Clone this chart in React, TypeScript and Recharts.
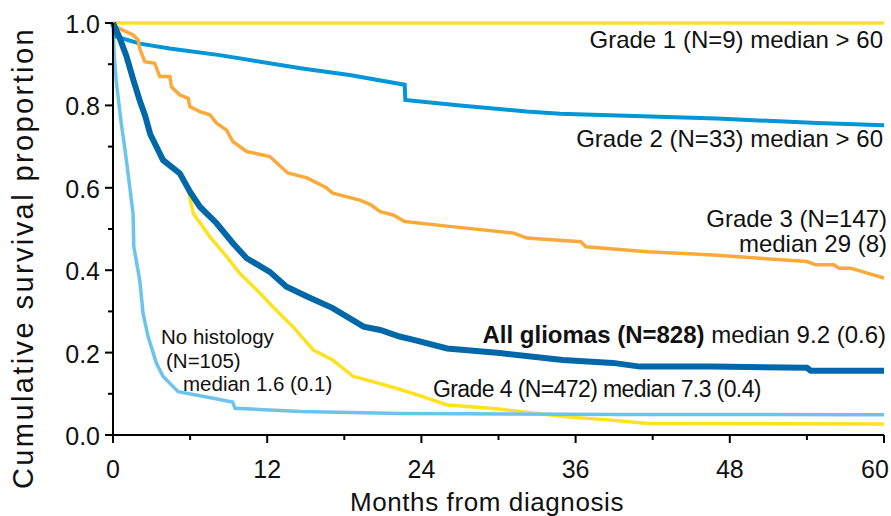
import { LineChart, Line, XAxis, YAxis } from "recharts";

// Kaplan-Meier curves: [month, survival proportion]
const grade1 = [
  [0, 1], [60, 1],
];

const grade2 = [
  [0, 1], [0.25, 0.967], [2.1, 0.95], [4.4, 0.938], [8.3, 0.922], [14.6, 0.89],
  [18.4, 0.874], [22.7, 0.85], [22.75, 0.813], [27, 0.8], [32.2, 0.785],
  [34.8, 0.78], [47, 0.768], [54.8, 0.757], [60, 0.752],
];

const grade3 = [
  [0, 1], [0.26, 0.99], [1.56, 0.971], [1.95, 0.959], [2.08, 0.938], [2.47, 0.906],
  [3.25, 0.902], [3.64, 0.87], [4.42, 0.87], [4.55, 0.845], [5.2, 0.825],
  [5.85, 0.817], [5.98, 0.797], [6.76, 0.785], [7.54, 0.777], [8.06, 0.757],
  [8.84, 0.74], [9.33, 0.712], [10.4, 0.688], [12.2, 0.676], [13.6, 0.636],
  [15.1, 0.624], [16.6, 0.6], [17.1, 0.587], [19.2, 0.57], [20, 0.56],
  [20.8, 0.542], [21.8, 0.534], [22.7, 0.518], [26, 0.507], [31.2, 0.49],
  [32.2, 0.478], [36.4, 0.469], [36.8, 0.457], [41.6, 0.445], [46.7, 0.437],
  [54, 0.421], [54.7, 0.413], [56.1, 0.413], [56.5, 0.405], [57.4, 0.405],
  [58.7, 0.393], [60, 0.381],
];

const allGliomas = [
  [0, 1], [0.5, 0.965], [1.04, 0.92], [1.6, 0.86], [2.1, 0.81], [2.5, 0.775],
  [2.9, 0.73], [3.9, 0.667], [5.2, 0.635], [6.0, 0.59], [6.76, 0.554],
  [8.06, 0.514], [9.35, 0.465], [10.4, 0.429], [12.2, 0.396], [13.5, 0.36],
  [15.1, 0.336], [17.1, 0.308], [19.5, 0.263], [20.8, 0.255], [22.3, 0.239],
  [23.4, 0.231], [26, 0.21], [30.1, 0.199], [35, 0.182], [38.9, 0.175],
  [41, 0.166], [46.7, 0.166], [54, 0.163], [54.3, 0.156], [60, 0.156],
];

const grade4 = [
  [0, 1], [0.5, 0.965], [1.04, 0.92], [1.6, 0.86], [2.1, 0.81], [2.9, 0.73],
  [3.9, 0.667], [5.2, 0.635], [5.9, 0.59], [6.24, 0.538], [7.54, 0.481],
  [8.84, 0.433], [9.88, 0.392], [11.2, 0.352], [12.7, 0.303], [14.0, 0.263],
  [15.6, 0.206], [17.1, 0.182], [18.7, 0.142], [20.3, 0.129], [22.3, 0.111],
  [24.1, 0.093], [26, 0.073], [29.4, 0.065], [31.7, 0.057], [35.3, 0.044],
  [38.9, 0.036], [41.6, 0.028], [60, 0.027],
];

const noHistology = [
  [0, 1], [0.1, 0.92], [0.25, 0.86], [0.4, 0.82], [0.65, 0.755], [0.9, 0.7],
  [1.17, 0.636], [1.43, 0.57], [1.56, 0.538], [1.62, 0.457], [2.08, 0.376],
  [2.34, 0.295], [2.73, 0.239], [3.38, 0.174], [3.9, 0.142], [5.07, 0.105],
  [7.8, 0.089], [9.3, 0.08], [9.5, 0.065], [14.6, 0.057], [22.4, 0.052],
  [40, 0.05], [60, 0.049],
];

const xMajorTicks = [0, 12, 24, 36, 48, 60];
const xMinorTicks = [6, 18, 30, 42, 54];
const yMajorTicks = [0, 0.2, 0.4, 0.6, 0.8, 1.0];
const yMinorTicks = [0.1, 0.3, 0.5, 0.7, 0.9];

const FONT = "'Liberation Sans', Arial, Helvetica, sans-serif";
const INK = "#111";

const toPoints = (pairs: number[][]) => pairs.map(([month, surv]) => ({ month, surv }));

// bottom to top drawing order
const series = [
  { key: "g1", data: grade1, color: "#FFE21F", width: 3.5 },
  { key: "g4", data: grade4, color: "#FFE21F", width: 3.5 },
  { key: "nh", data: noHistology, color: "#6CC4EC", width: 3.5 },
  { key: "g2", data: grade2, color: "#0096D8", width: 4 },
  { key: "g3", data: grade3, color: "#FAA93A", width: 3.5 },
  { key: "all", data: allGliomas, color: "#0067A8", width: 6 },
];

const isMajor = (list: number[], v: number) => list.some((m) => Math.abs(m - v) < 1e-6);

function XTick(props: any) {
  const { x, y, payload } = props;
  const major = isMajor(xMajorTicks, payload.value);
  const shift = payload.value === 60 ? -9 : 0;
  return (
    <g>
      <line x1={x} y1={y} x2={x} y2={y + (major ? 8 : 5)} stroke="#000" strokeWidth={2} />
      {major && (
        <text x={x + shift} y={y + 43} textAnchor="middle" fontSize={25} fontFamily={FONT} fill={INK}>
          {payload.value}
        </text>
      )}
    </g>
  );
}

function YTick(props: any) {
  const { x, y, payload } = props;
  const major = isMajor(yMajorTicks, payload.value);
  return (
    <g>
      <line x1={x - (major ? 8 : 5)} y1={y} x2={x} y2={y} stroke="#000" strokeWidth={2} />
      {major && (
        <text x={x - 13} y={y + 10} textAnchor="end" fontSize={25} fontFamily={FONT} fill={INK}>
          {payload.value.toFixed(1)}
        </text>
      )}
    </g>
  );
}

export default function App() {
  const xTicks = [...xMajorTicks, ...xMinorTicks].sort((a, b) => a - b);
  const yTicks = [...yMajorTicks, ...yMinorTicks].sort((a, b) => a - b);

  return (
    <div style={{ position: "absolute", left: 0, top: 0, width: 891, height: 516, background: "#fff" }}>
      <LineChart width={891} height={516} margin={{ top: 23, right: 7, bottom: 0, left: 0 }}>
        <XAxis
          type="number"
          dataKey="month"
          domain={[0, 60]}
          ticks={xTicks}
          interval={0}
          tickSize={0}
          tickMargin={0}
          tickLine={false}
          axisLine={{ stroke: "#000", strokeWidth: 2 }}
          tick={<XTick />}
          height={81}
        />
        <YAxis
          type="number"
          dataKey="surv"
          domain={[0, 1]}
          ticks={yTicks}
          interval={0}
          tickSize={0}
          tickMargin={0}
          tickLine={false}
          axisLine={{ stroke: "#000", strokeWidth: 2 }}
          tick={<YTick />}
          width={113}
        />
        {series.map((s) => (
          <Line
            key={s.key}
            data={toPoints(s.data)}
            dataKey="surv"
            type="linear"
            stroke={s.color}
            strokeWidth={s.width}
            strokeLinejoin="miter"
            dot={false}
            activeDot={false}
            isAnimationActive={false}
          />
        ))}
      </LineChart>

      <svg
        width={891}
        height={516}
        style={{ position: "absolute", left: 0, top: 0, pointerEvents: "none" }}
        fontFamily={FONT}
        fill={INK}
      >
        <text x={883} y={48} fontSize={24} textAnchor="end">Grade 1 (N=9) median &gt; 60</text>
        <text x={883} y={147} fontSize={24} textAnchor="end">Grade 2 (N=33) median &gt; 60</text>
        <text x={887} y={227} fontSize={24} textAnchor="end">Grade 3 (N=147)</text>
        <text x={887} y={252} fontSize={24} textAnchor="end">median 29 (8)</text>
        <text x={886} y={343} fontSize={24} textAnchor="end">
          <tspan fontWeight="bold">All gliomas (N=828)</tspan> median 9.2 (0.6)
        </text>
        <text x={433} y={397} fontSize={23} letterSpacing={-0.6}>Grade 4 (N=472) median 7.3 (0.4)</text>
        <text x={161} y={344} fontSize={20.5}>No histology</text>
        <text x={166} y={367.5} fontSize={20.5}>(N=105)</text>
        <text x={183} y={391} fontSize={20.5}>median 1.6 (0.1)</text>
        <text x={487} y={511} fontSize={26} letterSpacing={0.6} textAnchor="middle">Months from diagnosis</text>
        <text
          x={33}
          y={258}
          fontSize={29}
          letterSpacing={2.4}
          textAnchor="middle"
          transform="rotate(-90 33 258)"
        >
          Cumulative survival proportion
        </text>
      </svg>
    </div>
  );
}
